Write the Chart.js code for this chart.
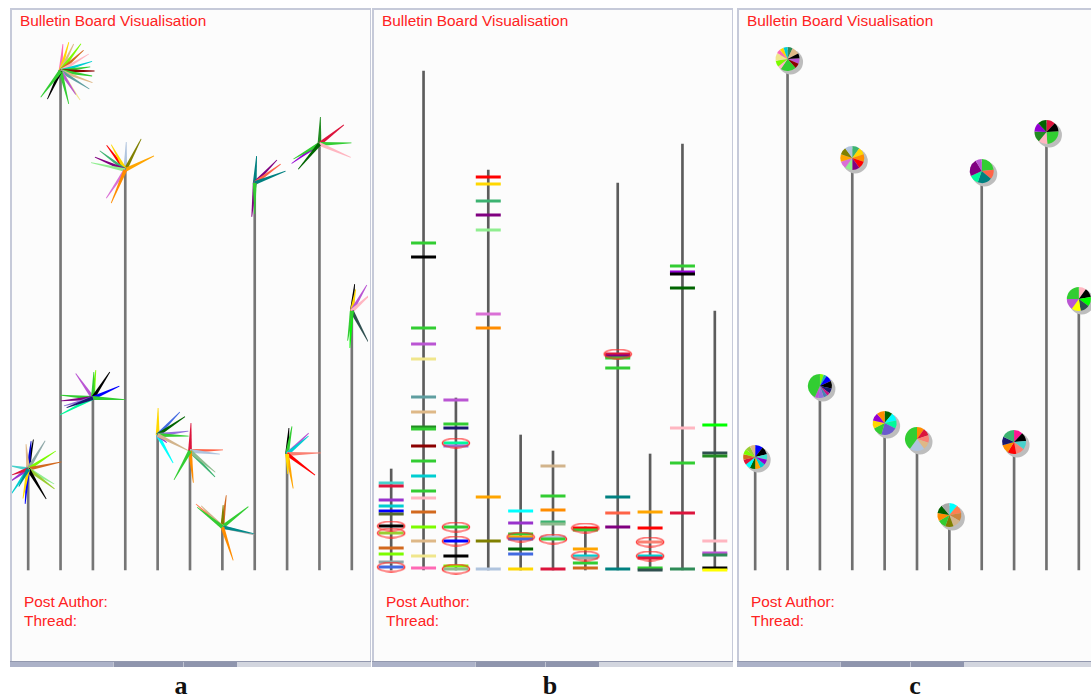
<!DOCTYPE html>
<html><head><meta charset="utf-8">
<script src="https://cdn.jsdelivr.net/npm/chart.js@4.4.1/dist/chart.umd.min.js"></script>
<style>
html,body{margin:0;padding:0;background:#fff;width:1091px;height:700px;overflow:hidden;}
.panel{position:absolute;top:8px;height:653px;background:#fcfcfc;border-left:2px solid #c6cad9;border-top:2px solid #c6cad9;border-right:1px solid #c6cad9;box-sizing:border-box;}
.title{position:absolute;left:8px;top:1px;color:#ff2222;font:15.4px/19px "Liberation Sans",Arial,sans-serif;white-space:nowrap;}
.info{position:absolute;left:12px;top:582px;color:#ff2222;font:15.4px/19px "Liberation Sans",Arial,sans-serif;white-space:nowrap;}
.scroll{position:absolute;left:-2px;right:-1px;top:651px;height:5px;border-top:1px solid #9298ae;background:#d3d6df;}
.scroll .trk{position:absolute;left:0;top:0;width:103px;height:5px;background:#acb2c8;}
.scroll .thumb{position:absolute;left:103px;top:0;width:123px;height:5px;background:#8f95ad;border-left:1px solid #c0c4d2;}
.scroll .thumb i{position:absolute;left:69px;top:0;width:1px;height:5px;background:#c0c4d2;}
canvas{position:absolute;}
.lbl{position:absolute;top:671px;width:40px;text-align:center;font:bold 26px/30px "Liberation Serif","Times New Roman",serif;color:#111;}
</style>
</head><body>

<div class="panel" style="left:10px;width:361px;">
  <div class="title">Bulletin Board Visualisation</div>
  <canvas id="ca" width="356" height="545" style="left:0;top:20px;"></canvas>
  <div class="info">Post Author:<br>Thread:</div>
  <div class="scroll"><div class="trk"></div><div class="thumb"><i></i></div></div>
</div>
<div class="panel" style="left:372px;width:361px;">
  <div class="title">Bulletin Board Visualisation</div>
  <canvas id="cb" width="356" height="545" style="left:1px;top:20px;"></canvas>
  <div class="info">Post Author:<br>Thread:</div>
  <div class="scroll"><div class="trk"></div><div class="thumb"><i></i></div></div>
</div>
<div class="panel" style="left:737px;width:360px;">
  <div class="title">Bulletin Board Visualisation</div>
  <canvas id="cc" width="356" height="545" style="left:0;top:20px;"></canvas>
  <div class="info">Post Author:<br>Thread:</div>
  <div class="scroll"><div class="trk"></div><div class="thumb"><i></i></div></div>
</div>
<div class="lbl" style="left:161px;">a</div>
<div class="lbl" style="left:530px;">b</div>
<div class="lbl" style="left:895px;">c</div>

<script>
// ---------- DATA ----------
const threads = ['T1','T2','T3','T4','T5','T6','T7','T8','T9','T10','T11'];
// thread life span (time units) = stem height
const threadSpan = [10.1, 49.9, 17.2, 40.0, 13.5, 11.9, 4.3, 38.7, 11.6, 42.6, 25.9];

// post times per thread (panel b)
const postTimes = [
  [8.7, 8.4, 7.0, 6.4, 5.9, 5.6, 4.4, 3.7, 2.2, 1.6, 0.8, 0.3],
  [32.7, 31.3, 24.2, 22.6, 21.1, 17.3, 15.8, 14.3, 14.1, 12.4, 10.9, 9.4, 7.9, 7.2, 5.8, 4.3, 2.9, 1.4, 0.2],
  [17.0, 14.6, 14.2, 12.7, 12.4, 4.3, 2.9, 1.4, 0.4, 0.1],
  [39.3, 38.6, 36.9, 35.5, 34.0, 25.6, 24.2, 7.3, 2.9, 0.1],
  [5.9, 4.7, 3.6, 3.3, 3.1, 2.1, 1.6, 0.1],
  [10.4, 7.4, 6.0, 4.8, 4.6, 3.3, 3.1, 0.1],
  [4.2, 4.0, 2.1, 1.4, 1.2, 0.7, 0.2],
  [21.6, 21.4, 21.2, 20.2, 7.3, 5.7, 4.3, 0.1],
  [5.8, 4.2, 2.8, 1.4, 1.2, 0.2, 0.0],
  [30.4, 29.8, 29.6, 28.2, 14.2, 10.7, 5.7, 0.1],
  [14.5, 11.7, 11.4, 2.9, 1.7, 1.5, 0.2, 0.0]
];
// author colour of each post
const postColors = [
  ['#48d1cc','#dc143c','#9932cc','#00ced1','#0000ff','#556b2f','#000000','#9acd32','#d2691e','#7cfc00','#8fa8a8','#4169e1'],
  ['#32cd32','#000000','#32cd32','#ba55d3','#f0e68c','#5f9ea0','#deb887','#228b22','#32cd32','#8b0000','#32cd32','#00ced1','#32cd32','#ffb6c1','#d2691e','#7cfc00','#deb887','#f0e68c','#ff69b4'],
  ['#ba55d3','#32cd32','#191970','#00fa9a','#9370db','#32cd32','#0000ff','#000000','#7cfc00','#8fbc8f'],
  ['#ff0000','#ffd700','#3cb371','#800080','#90ee90','#da70d6','#ff8c00','#ffa500','#808000','#b0c4de'],
  ['#00ffff','#9932cc','#32cd32','#ffa500','#4169e1','#006400','#4169e1','#ffd700'],
  ['#d2b48c','#32cd32','#ff8c00','#3cb371','#8fbc8f','#b0c4de','#32cd32','#dc143c'],
  ['#ff0000','#32cd32','#ffa500','#00ced1','#a9a9a9','#32cd32','#d2691e'],
  ['#dc143c','#800080','#32cd32','#32cd32','#008080','#ff6347','#800080','#008080'],
  ['#ffa500','#ff0000','#fa8072','#00ced1','#dc143c','#32cd32','#2f4f4f'],
  ['#32cd32','#9400d3','#000000','#006400','#ffb6c1','#32cd32','#dc143c','#2e8b57'],
  ['#00ff00','#2f4f4f','#228b22','#ffb6c1','#ba55d3','#2e8b57','#000000','#ffff00']
];
// highlighted (selected) posts, ringed in red in panel b
const highlightTimes = [
  [4.4, 3.7, 0.3], [], [12.7, 4.3, 2.9, 0.1], [], [3.3], [3.1], [4.2, 1.4], [21.6], [2.8, 1.4], [], []
];

// panel a: one spike per post  (direction in degrees, length, colour)
const starAngles = [
  [80,84,95,59,33,12,-30,-37,-59,-95,-100,-124,-145,170,-160,-118],
  [85,74,64,53,42,31,17,8,0,-9,-20,-32,-56,-57,-76,-115,-127],
  [125,84,88,57,24,-3,175,-175,-153,-165,-160],
  [88,63,26,127,119,143,157,168,-124,-113],
  [89,46,34,7,-2,-61,-40,-27],
  [88,2,-6,-46,-40,-84,-119],
  [83,88,38,-14,-12,-72,139,135,142],
  [86,46,36,21,-95,-90],
  [86,80,44,40,2,-37,-80,-88],
  [88,38,2,-23,-145,-150,-130],
  [84,80,60,42,-62,-93,-98]
];
const starLengths = [
  [30,28,25,33,33,34,30,33,35,35,30,30,22,20,18,20],
  [27,30,30,34,31,33,33,30,34,32,34,34,35,28,34,31,33],
  [30,28,26,31,29,32,33,32,37,30,28],
  [28,35,32,31,29,32,33,35,34,36],
  [27,32,33,31,31,32,12,35],
  [28,33,30,36,33,32,33],
  [32,22,33,33,32,35,35,30,32],
  [27,32,32,33,34,31],
  [26,28,30,28,34,35,35,20],
  [27,31,32,34,34,30,33],
  [27,22,30,27,35,37,30]
];
const starColors = [
  ['#000000','#0000cd','#deb887','#8fa8a8','#7cfc00','#d2691e','#90ee90','#9acd32','#000000','#0000ff','#ffd700','#00ced1','#9932cc','#48d1cc','#dc143c','#008b8b'],
  ['#ff69b4','#ffd700','#deb887','#7cfc00','#d2691e','#ffb6c1','#00ced1','#32cd32','#8b0000','#32cd32','#deb887','#5f9ea0','#f0e68c','#ba55d3','#32cd32','#000000','#32cd32'],
  ['#ba55d3','#7cfc00','#32cd32','#000000','#0000ff','#32cd32','#32cd32','#800080','#00fa9a','#9370db','#191970'],
  ['#b0c4de','#808000','#ffa500','#ff0000','#ffd700','#3cb371','#800080','#90ee90','#da70d6','#ff8c00'],
  ['#ffd700','#4169e1','#006400','#9370db','#32cd32','#00ffff','#9932cc','#d2b48c'],
  ['#dc143c','#ff6347','#b0c4de','#3cb371','#8fbc8f','#ff8c00','#32cd32'],
  ['#d2691e','#808000','#32cd32','#a9a9a9','#008b8b','#ff8c00','#ff7f50','#d2b48c','#32cd32'],
  ['#008080','#800080','#ff6347','#008080','#800080','#32cd32'],
  ['#000000','#32cd32','#ba55d3','#00ced1','#fa8072','#ff0000','#ffa500','#ffd700'],
  ['#228b22','#dc143c','#32cd32','#ffb6c1','#9400d3','#32cd32','#006400'],
  ['#000000','#ffd700','#ba55d3','#ffb6c1','#2f4f4f','#00ff00','#32cd32']
];

// panel c: pie of each thread (share of posts per author, clockwise from top)
const pieShares = [
  [1.5,1.5,1,1,1,1,1,1,1,1,1,1,1],
  [1,1.5,1,1,1,3,0.7,1.2,1.5,0.8,0.8,0.8],
  [0.6,0.5,1,1.2,0.8,0.5,0.6,0.8,0.6,5],
  [1,1,1,1,1,1,1,1,1,1],
  [1,1,1,2,1.2,1,1,1],
  [0.8,0.8,0.8,0.8,1.6,3.2],
  [1,1,1,1,1,1,1,1,1],
  [2.2,1.2,1.8,1.2,2.2,0.8],
  [1,1,1,1,1,1,1,1.5],
  [1,1,2,1,1.2,1,1],
  [0.8,1,1,1,1,1.2,2]
];
const pieColors = [
  ['#0000ff','#000000','#40e0d0','#9400d3','#00ced1','#ffa500','#006400','#00ffff','#dc143c','#d2691e','#7cfc00','#9acd32','#deb887'],
  ['#2e8b57','#deb887','#000000','#ba55d3','#8b0000','#32cd32','#ffb6c1','#7cfc00','#f0e68c','#ff69b4','#ffd700','#00ced1'],
  ['#7cfc00','#20b2aa','#0000ff','#000000','#191970','#c71585','#4682b4','#9370db','#ba55d3','#32cd32'],
  ['#3cb371','#ffd700','#ff8c00','#ff0000','#800080','#90ee90','#da70d6','#ffa500','#808000','#b0c4de'],
  ['#006400','#00ffff','#00fa9a','#6a5acd','#32cd32','#ffd700','#9400d3','#ff8c00'],
  ['#ff8c00','#dc143c','#fa8072','#deb887','#b0c4de','#32cd32'],
  ['#00ffff','#ff7f50','#cd853f','#d2b48c','#808000','#32cd32','#ff8c00','#006400','#a9a9a9'],
  ['#32cd32','#ff6347','#008080','#00fa9a','#800080','#ba55d3'],
  ['#ff1493','#000000','#48d1cc','#fa8072','#ff0000','#ff8c00','#191970','#3cb371'],
  ['#dc143c','#000000','#32cd32','#ffb6c1','#228b22','#9400d3','#006400'],
  ['#ffb6c1','#000000','#00ff00','#2f4f4f','#ffff00','#ba55d3','#32cd32']
];

// ---------- CHARTS ----------
function baseOptions() {
  return {
    responsive: false,
    animation: false,
    events: [],
    layout: { autoPadding: false, padding: { top: 0, bottom: 5, left: 0, right: 0 } },
    plugins: { legend: { display: false }, tooltip: { enabled: false }, title: { display: false } },
    scales: {
      x: { type: 'linear', min: -0.5, max: 10.5, offset: false, display: false, grid: { offset: false } },
      y: { type: 'linear', min: 0, max: 54, display: false }
    }
  };
}
function stemDataset(color) {
  return {
    type: 'bar',
    data: threads.map((t, i) => ({ x: i, y: [0, threadSpan[i]] })),
    backgroundColor: color,
    barThickness: 2,
    order: 5,
    clip: false
  };
}

// Panel a: star glyphs
const starPlugin = {
  id: 'stars',
  afterDatasetsDraw(chart) {
    const ctx = chart.ctx, xs = chart.scales.x, ys = chart.scales.y;
    ctx.save();
    threads.forEach((t, i) => {
      const cx = xs.getPixelForValue(i), cy = ys.getPixelForValue(threadSpan[i]);
      starAngles[i].forEach((a, k) => {
        const r = a * Math.PI / 180, L = starLengths[i][k];
        const dx = Math.cos(r), dy = -Math.sin(r);
        const px = -dy, py = dx;
        const w0 = 1.9, w1 = 0.4;
        ctx.beginPath();
        ctx.moveTo(cx + px * w0, cy + py * w0);
        ctx.lineTo(cx + dx * L + px * w1, cy + dy * L + py * w1);
        ctx.lineTo(cx + dx * L - px * w1, cy + dy * L - py * w1);
        ctx.lineTo(cx - px * w0, cy - py * w0);
        ctx.closePath();
        ctx.fillStyle = starColors[i][k];
        ctx.fill();
      });
    });
    ctx.restore();
  }
};

new Chart(document.getElementById('ca'), {
  type: 'scatter',
  data: { datasets: [stemDataset('#767676')] },
  options: baseOptions(),
  plugins: [starPlugin]
});

// Panel b: tick marks per post
const tickPts = [], tickCols = [], ringPts = [];
threads.forEach((t, i) => {
  postTimes[i].forEach((v, j) => { tickPts.push({ x: i, y: v }); tickCols.push(postColors[i][j]); });
  highlightTimes[i].forEach(v => ringPts.push({ x: i, y: v }));
});
const ring = document.createElement('canvas');
ring.width = 30; ring.height = 11;
(function () {
  const c = ring.getContext('2d');
  c.strokeStyle = '#ff2a2a'; c.lineWidth = 1.3;
  c.beginPath(); c.ellipse(15, 5.5, 13.6, 4.6, 0, 0, Math.PI * 2); c.stroke();
})();

new Chart(document.getElementById('cb'), {
  type: 'scatter',
  data: {
    datasets: [
      stemDataset('#5c5c5c'),
      { type: 'scatter', data: tickPts, pointStyle: 'line', pointRadius: 12.5, pointBorderWidth: 3,
        pointBorderColor: tickCols, pointBackgroundColor: tickCols, order: 2, clip: false },
      { type: 'scatter', data: ringPts, pointStyle: ring, pointRadius: 15, order: 1, clip: false }
    ]
  },
  options: baseOptions()
});

// Panel c: pie glyphs
const piePlugin = {
  id: 'pies',
  afterDatasetsDraw(chart) {
    const ctx = chart.ctx, xs = chart.scales.x, ys = chart.scales.y;
    const R = 12;
    ctx.save();
    threads.forEach((t, i) => {
      const cx = xs.getPixelForValue(i), cy = ys.getPixelForValue(threadSpan[i]) - R;
      ctx.beginPath(); ctx.arc(cx + 3, cy + 3, R + 0.5, 0, Math.PI * 2);
      ctx.fillStyle = '#bdbdbd'; ctx.fill();
      const tot = pieShares[i].reduce((s, v) => s + v, 0);
      let a0 = -Math.PI / 2;
      pieShares[i].forEach((v, k) => {
        const a1 = a0 + v / tot * Math.PI * 2;
        ctx.beginPath(); ctx.moveTo(cx, cy); ctx.arc(cx, cy, R, a0, a1); ctx.closePath();
        ctx.fillStyle = pieColors[i][k]; ctx.fill();
        a0 = a1;
      });
    });
    ctx.restore();
  }
};

new Chart(document.getElementById('cc'), {
  type: 'scatter',
  data: { datasets: [stemDataset('#707070')] },
  options: baseOptions(),
  plugins: [piePlugin]
});
</script>
</body></html>
